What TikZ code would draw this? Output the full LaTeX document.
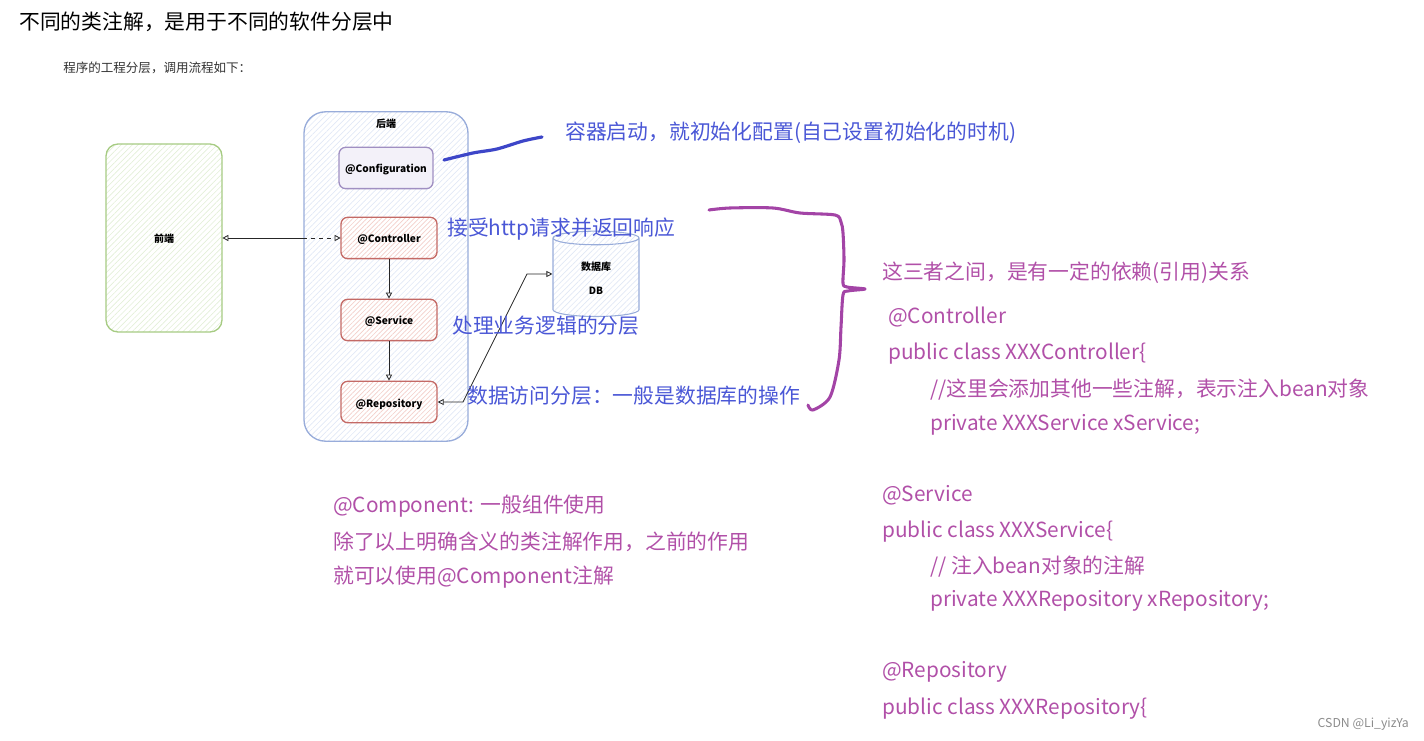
\documentclass[tikz,border=0pt]{standalone}
\usepackage{fontspec}
\setmainfont{Noto Sans CJK SC}
\usetikzlibrary{arrows.meta, patterns.meta, shapes.geometric}

\tikzset{
    layerbox/.style={rounded corners=5pt, line width=1pt, minimum width=72pt, minimum height=31pt,
        text height=9pt, text depth=1.5pt, font=\bfseries\fontsize{7.6}{9}\selectfont},
    noteText/.style={anchor=west, font=\fontsize{15.6}{18}\selectfont, inner sep=0pt, yshift=-1pt},
    flowLine/.style={line width=0.6pt, draw=black!85, >={Triangle[open, length=4.5pt, width=4.5pt]}}
}

\begin{document}
\begin{tikzpicture}[x=0.75pt, y=-0.75pt]
    % Define colours
    \definecolor{noteBlue}{HTML}{4A57D6}
    \definecolor{notePurple}{HTML}{B150A8}
    \definecolor{strokeBlue}{HTML}{3D46C8}
    \definecolor{strokePurple}{HTML}{A344A6}
    \definecolor{frontBorder}{HTML}{A6CB82}
    \definecolor{frontHatch}{HTML}{E3EFD8}
    \definecolor{backBorder}{HTML}{98ACDA}
    \definecolor{backHatch}{HTML}{E1E8F6}
    \definecolor{configBorder}{HTML}{A08FC2}
    \definecolor{configFill}{HTML}{F3F1F9}
    \definecolor{layerBorder}{HTML}{C46A66}
    \definecolor{layerHatch}{HTML}{F3CFCA}

    % Fix the page size
    \useasboundingbox (0,0) rectangle (1424,741);

    % Draw the headings
    \node[anchor=west, inner sep=0pt, font=\fontsize{15.6}{18}\selectfont] (title) at (19,22) {不同的类注解，是用于不同的软件分层中};
    \node[anchor=west, inner sep=0pt, font=\fontsize{9.4}{11}\selectfont, text=black!80] (subtitle) at (63,68) {程序的工程分层，调用流程如下：};

    % Draw the frontend box
    \node[draw=frontBorder, line width=1pt, rounded corners=9pt, minimum width=87pt, minimum height=141pt,
        pattern={Lines[angle=45, distance=3pt, line width=0.5pt]}, pattern color=frontHatch,
        text height=9pt, text depth=1.5pt, font=\bfseries\fontsize{7.5}{9}\selectfont] (frontend) at (164,238) {前端};

    % Draw the backend box and its layers
    \node[draw=backBorder, line width=1pt, rounded corners=16pt, minimum width=123pt, minimum height=247pt,
        pattern={Lines[angle=45, distance=3pt, line width=0.5pt]}, pattern color=backHatch] (backend) at (386,276.5) {};
    \node[font=\bfseries\fontsize{7.5}{9}\selectfont, inner sep=0pt] (backendLabel) at (386,124) {后端};

    \node[layerbox, minimum width=70.5pt, draw=configBorder, fill=configFill] (configuration) at (386,168) {@Configuration};
    \node[layerbox, draw=layerBorder, preaction={fill=white},
        pattern={Lines[angle=45, distance=2.5pt, line width=0.5pt]}, pattern color=layerHatch] (controller) at (389,238) {@Controller};
    \node[layerbox, draw=layerBorder, preaction={fill=white},
        pattern={Lines[angle=45, distance=2.5pt, line width=0.5pt]}, pattern color=layerHatch] (service) at (389,320) {@Service};
    \node[layerbox, draw=layerBorder, preaction={fill=white},
        pattern={Lines[angle=45, distance=2.5pt, line width=0.5pt]}, pattern color=layerHatch] (repository) at (389,402) {@Repository};

    % Draw the database
    \node[cylinder, shape border rotate=90, aspect=0.35, draw=backBorder, line width=0.8pt, preaction={fill=white},
        pattern={Lines[angle=45, distance=3pt, line width=0.5pt]}, pattern color=backHatch,
        minimum width=64.5pt, minimum height=64pt, align=center,
        font=\bfseries\fontsize{7.5}{9}\selectfont] (database) at (596,279) {\raisebox{2pt}{数据库}\\[8.5pt]\raisebox{1.5pt}{DB}};

    % Draw the arrows
    \coordinate (backendEdge) at (backend.west |- controller.west);
    \coordinate (bendLow) at (463,402);
    \coordinate (bendHigh) at (527,274);
    \draw[flowLine, <-] (frontend.east |- controller.west) -- (backendEdge);
    \draw[flowLine, ->, dashed] (backendEdge) -- (controller.west);
    \draw[flowLine, ->] (controller) -- (service);
    \draw[flowLine, ->] (service) -- (repository);
    \draw[flowLine, <->] (repository.east) -- (bendLow) -- (bendHigh) -- (database.west |- bendHigh);

    % Draw the hand-written strokes
    \draw[strokeBlue, line width=2.4pt, line cap=round] plot[smooth, tension=0.5] coordinates {(444,160) (473,153) (497,149) (523,141) (542,137)};
    \draw[strokePurple, line width=2.3pt, line cap=round, line join=round] plot[smooth, tension=0.5] coordinates {
        (709,210) (730,208) (773,208) (800,213) (835,215) (841,222) (843,233) (844,260) (843,283) (847,287) (865,289)
        (848,291) (843,295) (841,327) (839,360) (830,397) (813,410) (808,405)};

    % Label the layers
    \node[noteText, text=noteBlue] (noteConfig) at (565,131) {容器启动，就初始化配置(自己设置初始化的时机)};
    \node[noteText, text=noteBlue] (noteController) at (447,228) {接受http请求并返回响应};
    \node[noteText, text=noteBlue] (noteService) at (452,324) {处理业务逻辑的分层};
    \node[noteText, text=noteBlue] (noteRepository) at (467,394) {数据访问分层：一般是数据库的操作};

    % Write the component remarks
    \foreach \i/\ypos/\txt in {1/505/{@Component: 一般组件使用},
                               2/540/{除了以上明确含义的类注解作用，之前的作用},
                               3/576/{就可以使用@Component注解}}
        \node[noteText, text=notePurple] (remark\i) at (333,\ypos) {\txt};

    % Write the code on the right
    \foreach \i/\xpos/\ypos/\txt in {1/882/271/{这三者之间，是有一定的依赖(引用)关系},
                                     2/888/316/{@Controller},
                                     3/888/352/{public class XXXController\{},
                                     4/930/388/{//这里会添加其他一些注解，表示注入bean对象},
                                     5/930/423/{private XXXService xService;},
                                     6/882/494/{@Service},
                                     7/882/530/{public class XXXService\{},
                                     8/930/565/{// 注入bean对象的注解},
                                     9/930/600/{private XXXRepository xRepository;},
                                     10/882/671/{@Repository},
                                     11/882/707/{public class XXXRepository\{}}
        \node[noteText, text=notePurple] (code\i) at (\xpos,\ypos) {\txt};

    % Watermark
    \node[anchor=east, inner sep=0pt, text=black!45, font=\fontsize{9.2}{11}\selectfont] (watermark) at (1409,724) {CSDN @Li\_yizYa};

\end{tikzpicture}
\end{document}
